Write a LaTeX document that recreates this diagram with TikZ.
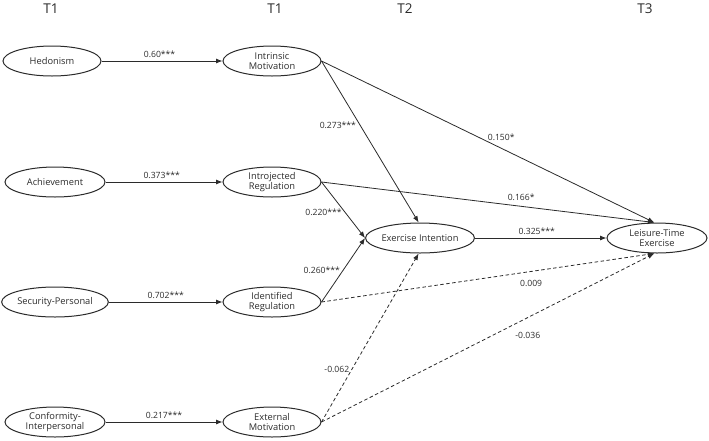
\documentclass[tikz,border=0pt]{standalone}
\usepackage{fontspec}
\setmainfont{Open Sans}
\usetikzlibrary{shapes.geometric,arrows.meta}
\definecolor{ink}{HTML}{2B2B2B}
\tikzset{
  var/.style={draw=ink, line width=1pt, ellipse, minimum width=98pt, minimum height=30pt, inner sep=0pt, align=center, font=\fontsize{9.3}{10.4}\selectfont, text=ink},
  path/.style={draw=ink, line width=0.8pt, -{Latex[length=6.5pt,width=5pt]}},
  ns/.style={path, dash pattern=on 3.5pt off 2.5pt},
  coef/.style={font=\fontsize{8.6}{10}\selectfont, text=ink, inner sep=1pt},
  hdr/.style={font=\fontsize{13.5}{15}\selectfont, text=ink}
}
\begin{document}
\begin{tikzpicture}[x=1pt,y=-1pt]
\useasboundingbox (0,0) rectangle (709,440);
% headers
\node[hdr] (h1) at (51,9) {T1};
\node[hdr] (h2) at (275,9) {T1};
\node[hdr] (h3) at (405,9) {T2};
\node[hdr] (h4) at (645,9) {T3};
% left column
\node[var] (hed) at (52,61) {Hedonism};
\node[var, minimum width=100pt] (ach) at (55,182) {Achievement};
\node[var, minimum width=100pt] (sec) at (55,302) {Security-Personal};
\node[var, minimum width=100pt] (con) at (55,422) {Conformity-\\Interpersonal};
% second column
\node[var] (im) at (272,61) {Intrinsic\\Motivation};
\node[var] (ir) at (272,182) {Introjected\\Regulation};
\node[var] (idr) at (272,302) {Identified\\Regulation};
\node[var] (em) at (272,422) {External\\Motivation};
% T2, T3
\node[var] (ei) at (420,238) {Exercise Intention};
\node[var, minimum width=100pt] (lte) at (657,238) {Leisure-Time\\Exercise};
% horizontal paths
\draw[path] (hed) -- node[coef, above=2pt, pos=0.48] {0.60***} (im);
\draw[path] (ach) -- node[coef, above=2pt, pos=0.48] {0.373***} (ir);
\draw[path] (sec) -- node[coef, above=2pt, pos=0.5] {0.702***} (idr);
\draw[path] (con) -- node[coef, above=2pt, pos=0.5] {0.217***} (em);
% to exercise intention
\draw[path] (im.east) -- node[coef, pos=0.4, left=3pt] {0.273***} (ei.95);
\draw[path] (ir.east) -- node[coef, pos=0.54, left=2pt] {0.220***} (ei.west);
\draw[path] (idr.east) -- node[coef, pos=0.5, left=2pt] {0.260***} (ei.west);
\draw[ns] (em.east) -- node[coef, pos=0.31, left=1pt] {-0.062} (ei.265);
% to leisure-time exercise
\draw[path] (im.east) -- node[coef, pos=0.54, above=6pt] {0.150*} (lte.100);
\draw[path] (ir.east) -- node[coef, pos=0.6, above=4pt] {0.166*} (lte.100);
\draw[path] (ei) -- node[coef, pos=0.47, above=2pt] {0.325***} (lte);
\draw[ns] (idr.east) -- node[coef, pos=0.63, below=7pt] {0.009} (lte.260);
\draw[ns] (em.east) -- node[coef, pos=0.62, below=13pt] {-0.036} (lte.260);
\end{tikzpicture}
\end{document}
